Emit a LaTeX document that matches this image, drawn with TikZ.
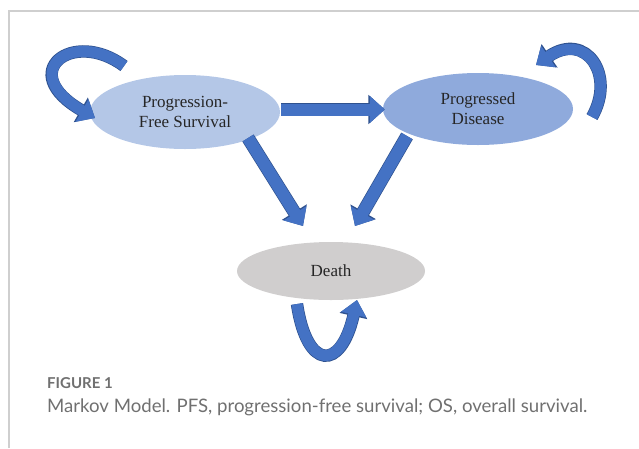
\documentclass[tikz,border=0pt]{standalone}
\usepackage{fontspec}
\setmainfont{Liberation Serif}
\newfontfamily\capfont{Lato}
\usetikzlibrary{shapes.geometric,arrows.meta,calc}
\definecolor{pfsc}{HTML}{B4C7E7}
\definecolor{pdc}{HTML}{8FAADC}
\definecolor{deathc}{HTML}{D0CECE}
\definecolor{arrowc}{HTML}{4472C4}
\definecolor{arrowdk}{HTML}{2F528F}
\definecolor{framec}{HTML}{CFCFCF}
\definecolor{capc}{HTML}{707070}
\begin{document}
\begin{tikzpicture}[x=1pt,y=-1pt,
  state/.style={ellipse, inner sep=0pt, align=center, font=\fontsize{17}{20}\selectfont, text=black!85},
  barrow/.style={draw=arrowc, line width=12pt, -{Triangle[width=26pt,length=15pt]},
    preaction={draw=arrowdk, line width=13.4pt, -{Triangle[width=28.4pt,length=16.4pt]}}},
  larrow/.style={draw=arrowc, line width=11pt, -{Triangle[width=25pt,length=15pt]},
    preaction={draw=arrowdk, line width=12.4pt, -{Triangle[width=27.4pt,length=16.4pt]}}},
  captext/.style={anchor=base west, inner sep=0pt, text=capc}
]
\useasboundingbox (0,0) rectangle (639,448);
\draw[framec, line width=1.2pt] (9,448) -- (9,11) -- (639,11);

% states
\node[state, fill=pfsc, minimum width=190pt, minimum height=74pt] (pfs) at (185,112) {Progression-\\Free Survival};
\node[state, fill=pdc, minimum width=190pt, minimum height=72pt] (pd) at (478,109) {Progressed\\Disease};
\node[state, fill=deathc, minimum width=188pt, minimum height=58pt] (death) at (331,271) {Death};

% transitions
\coordinate (e1a) at ($(pfs.east)+(1,-2.5)$);
\coordinate (e1b) at ($(pd.west)+(2,0.5)$);
\draw[barrow] (e1a) -- (e1b);

\coordinate (e2a) at ($(pfs.center)+(63,26)$);
\coordinate (e2b) at ($(death.center)+(-28,-45)$);
\draw[barrow] (e2a) -- (e2b);

\coordinate (e3a) at ($(pd.center)+(-71,27)$);
\coordinate (e3b) at ($(death.center)+(24,-45)$);
\draw[barrow] (e3a) -- (e3b);

% self loops
\coordinate (l1a) at ($(pfs.center)+(-61,-46)$);
\coordinate (l1b) at ($(pfs.center)+(-90,6)$);
\draw[larrow] (l1a) .. controls ($(pfs.center)+(-112,-84)$) and ($(pfs.center)+(-170,-40)$) .. (l1b);

\coordinate (l2a) at ($(pd.center)+(114,8)$);
\coordinate (l2b) at ($(pd.center)+(58,-44)$);
\draw[larrow] (l2a) .. controls ($(pd.center)+(138,-34)$) and ($(pd.center)+(108,-78)$) .. (l2b);

\coordinate (l3a) at ($(death.center)+(-34,33)$);
\coordinate (l3b) at ($(death.center)+(26,29)$);
\draw[larrow] (l3a) .. controls ($(death.center)+(-24,100)$) and ($(death.center)+(10,100)$) .. (l3b);

% caption
\node[captext, font=\capfont\bfseries\fontsize{15}{18}\selectfont] (fig) at (47,388) {FIGURE 1};
\node[captext, font=\capfont\fontsize{18.6}{22}\selectfont] (cap) at (47,412) {Markov Model. PFS, progression-free survival; OS, overall survival.};
\end{tikzpicture}
\end{document}
